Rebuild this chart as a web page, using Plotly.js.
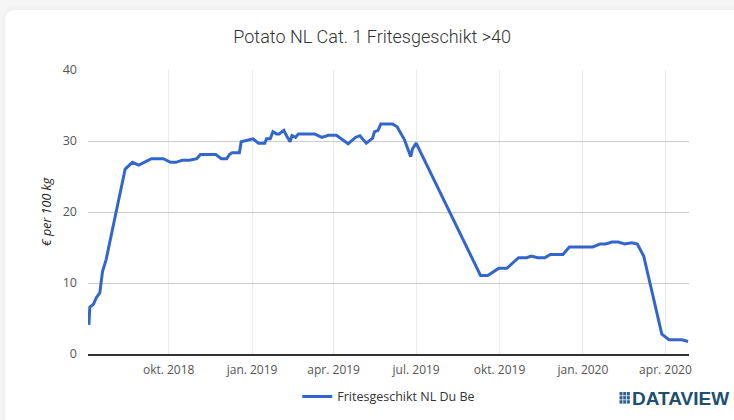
<!DOCTYPE html>
<html>
<head>
<meta charset="utf-8">
<script src="https://cdn.plot.ly/plotly-3.0.1.min.js"></script>
<style>
  html, body { margin: 0; padding: 0; width: 734px; height: 420px; overflow: hidden; background: #f6f6f6; }
  #card { position: absolute; left: 5px; top: 10px; width: 760px; height: 440px; background: #fff; border-radius: 9px; box-shadow: 0 0 6px rgba(0,0,0,0.07); }
  #chart { position: absolute; left: 0; top: 0; width: 734px; height: 420px; }
</style>
</head>
<body>
<div id="card"></div>
<div id="chart"></div>
<script>
const seriesName = 'Fritesgeschikt NL Du Be';
const dates = ['2018-07-05','2018-07-06','2018-07-10','2018-07-13','2018-07-17','2018-07-20','2018-07-24','2018-08-14','2018-08-22','2018-08-29','2018-09-12','2018-09-25','2018-10-03','2018-10-09','2018-10-16','2018-10-24','2018-11-01','2018-11-05','2018-11-22','2018-11-28','2018-12-04','2018-12-07','2018-12-10','2018-12-18','2018-12-20','2019-01-02','2019-01-08','2019-01-15','2019-01-17','2019-01-21','2019-01-24','2019-01-28','2019-01-31','2019-02-05','2019-02-08','2019-02-12','2019-02-14','2019-02-18','2019-02-21','2019-03-11','2019-03-19','2019-03-26','2019-04-04','2019-04-10','2019-04-17','2019-04-25','2019-04-30','2019-05-07','2019-05-14','2019-05-16','2019-05-20','2019-05-23','2019-06-05','2019-06-10','2019-06-14','2019-06-18','2019-06-25','2019-06-27','2019-07-01','2019-09-10','2019-09-18','2019-09-30','2019-10-09','2019-10-22','2019-10-31','2019-11-05','2019-11-12','2019-11-20','2019-11-26','2019-12-10','2019-12-17','2020-01-12','2020-01-20','2020-01-26','2020-02-02','2020-02-09','2020-02-16','2020-02-24','2020-03-01','2020-03-08','2020-03-28','2020-04-05','2020-04-19','2020-04-26'];
const prices = [4.1,6.6,7.0,7.9,8.6,11.6,13.3,26.05,27.0,26.6,27.5,27.5,27.0,27.0,27.3,27.3,27.5,28.1,28.1,27.5,27.5,28.1,28.35,28.35,29.9,30.3,29.7,29.7,30.3,30.3,31.3,31.0,31.0,31.5,30.75,29.9,30.75,30.5,31.0,31.0,30.5,30.8,30.8,30.2,29.6,30.5,30.75,29.7,30.4,31.3,31.5,32.4,32.4,32.0,31.0,30.2,27.8,28.9,29.7,11.07,11.07,12.06,12.06,13.56,13.56,13.8,13.56,13.56,14.03,14.03,15.07,15.07,15.5,15.5,15.77,15.77,15.5,15.67,15.5,13.8,2.8,2.0,2.0,1.77];
const xTickVals = ['2018-10-01','2019-01-01','2019-04-01','2019-07-01','2019-10-01','2020-01-01','2020-04-01'];
const xTickText = ['okt. 2018','jan. 2019','apr. 2019','jul. 2019','okt. 2019','jan. 2020','apr. 2020'];
const yTickVals = [0,10,20,30,40];

const W = 734, H = 420;
const M = {l: 88, r: 45, t: 70, b: 66};
const pw = W - M.l - M.r, ph = H - M.t - M.b;
const px = v => (v - M.l) / pw;
const py = v => (H - M.b - v) / ph;

// logo icon (3x3 grid)
const shapes = [];
for (let r = 0; r < 3; r++) {
  for (let c = 0; c < 3; c++) {
    const x0 = 619.5 + c * 3.7, y0 = 392 + r * 4.1;
    shapes.push({type: 'rect', xref: 'paper', yref: 'paper',
      x0: px(x0), x1: px(x0 + 3), y0: py(y0), y1: py(y0 + 3.4),
      fillcolor: '#2f6491', line: {width: 0}});
  }
}

const trace = {
  x: dates, y: prices, type: 'scatter', mode: 'lines', name: seriesName,
  line: {color: '#3366cc', width: 3}, hoverinfo: 'x+y'
};

const layout = {
  width: W, height: H,
  margin: M,
  paper_bgcolor: 'rgba(0,0,0,0)', plot_bgcolor: 'rgba(0,0,0,0)',
  font: {family: 'Open Sans, sans-serif', color: '#555', size: 12},
  title: {text: 'Potato NL Cat. 1 Fritesgeschikt >40', x: 0.507, xanchor: 'center', y: 0.912, yanchor: 'middle',
    font: {family: 'Roboto, sans-serif', size: 18, color: '#333', weight: 300}},
  xaxis: {
    type: 'date', range: ['2018-07-04', '2020-04-27'],
    tickvals: xTickVals, ticktext: xTickText,
    showgrid: true, gridcolor: '#ebebeb', gridwidth: 1,
    showline: true, linecolor: '#333', linewidth: 1.5,
    zeroline: false, ticks: '', ticklabelstandoff: 4,
    tickfont: {size: 12, color: '#555'}, fixedrange: true
  },
  yaxis: {
    range: [0, 40], tickvals: yTickVals,
    showgrid: true, gridcolor: '#cccccc', gridwidth: 1,
    zeroline: false, showline: false, ticks: '', ticklabelstandoff: 10,
    tickfont: {size: 12.5, color: '#555'},
    title: {text: '<i>€ per 100 kg</i>', standoff: 8, font: {size: 12.5, color: '#222'}},
    automargin: false, fixedrange: true
  },
  showlegend: true,
  legend: {orientation: 'h', xref: 'container', yref: 'container', x: 0.405, xanchor: 'left', y: 0.055, yanchor: 'middle',
    font: {size: 12.5, color: '#333'}, bgcolor: 'rgba(0,0,0,0)'},
  shapes: shapes,
  annotations: [{
    xref: 'paper', yref: 'paper', x: px(630), y: py(398.5), xanchor: 'left', yanchor: 'middle',
    text: '<b>DATAVIEW</b>', showarrow: false,
    font: {family: 'Liberation Sans, Arial, sans-serif', size: 19, color: '#1e4f70'}
  }]
};

Plotly.newPlot('chart', [trace], layout, {displayModeBar: false, staticPlot: true});
</script>
</body>
</html>
